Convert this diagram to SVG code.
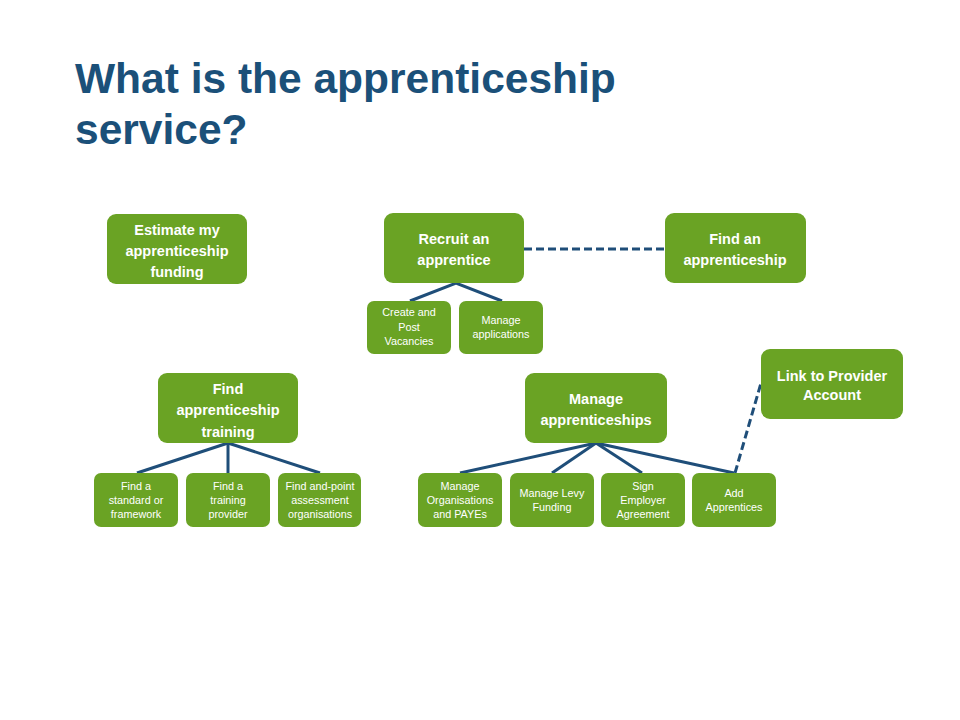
<svg xmlns="http://www.w3.org/2000/svg" width="960" height="720" viewBox="0 0 960 720">
<style>
.box{fill:#6aa324;}
.t{font-family:"Liberation Sans",Arial,sans-serif;font-weight:bold;font-size:14.5px;fill:#fff;text-anchor:middle;}
.s{font-family:"Liberation Sans",Arial,sans-serif;font-size:10.8px;fill:#fff;text-anchor:middle;}
.title{font-family:"Liberation Sans",Arial,sans-serif;font-weight:bold;font-size:42.5px;fill:#1b5079;}
.ln{stroke:#1f4e79;stroke-width:3;fill:none;}
.dash{stroke:#1f4e79;stroke-width:3;fill:none;stroke-dasharray:8 4;}
</style>
<rect width="960" height="720" fill="#fff"/>
<text class="title" x="75" y="93">What is the apprenticeship</text>
<text class="title" x="75" y="144">service?</text>
<g id="connectors">
<polyline class="ln" points="410,301 456,283 502,301"/>
<line class="dash" x1="524" y1="249" x2="665" y2="249"/>
<line class="ln" x1="228" y1="443" x2="137" y2="473"/>
<line class="ln" x1="228" y1="443" x2="228" y2="473"/>
<line class="ln" x1="228" y1="443" x2="320" y2="473"/>
<line class="ln" x1="596" y1="443" x2="460" y2="473"/>
<line class="ln" x1="596" y1="443" x2="552" y2="473"/>
<line class="ln" x1="596" y1="443" x2="642" y2="473"/>
<line class="ln" x1="596" y1="443" x2="734" y2="473"/>
<line class="dash" x1="735" y1="473" x2="761" y2="383"/>
</g>
<g id="estimate"><rect class="box" x="107" y="214" width="140" height="70" rx="9"/>
<text class="t" x="177" y="235">Estimate my</text><text class="t" x="177" y="256">apprenticeship</text><text class="t" x="177" y="277">funding</text></g>
<g id="recruit"><rect class="box" x="384" y="213" width="140" height="70" rx="9"/>
<text class="t" x="454" y="244">Recruit an</text><text class="t" x="454" y="265">apprentice</text></g>
<g id="findapp"><rect class="box" x="665" y="213" width="141" height="70" rx="9"/>
<text class="t" x="735" y="244">Find an</text><text class="t" x="735" y="265">apprenticeship</text></g>
<g id="create"><rect class="box" x="367" y="301" width="84" height="53" rx="7"/>
<text class="s" x="409" y="316">Create and</text><text class="s" x="409" y="331">Post</text><text class="s" x="409" y="345">Vacancies</text></g>
<g id="manageapps"><rect class="box" x="459" y="301" width="84" height="53" rx="7"/>
<text class="s" x="501" y="324">Manage</text><text class="s" x="501" y="338">applications</text></g>
<g id="training"><rect class="box" x="158" y="373" width="140" height="70" rx="9"/>
<text class="t" x="228" y="394">Find</text><text class="t" x="228" y="415">apprenticeship</text><text class="t" x="228" y="437">training</text></g>
<g id="standard"><rect class="box" x="94" y="473" width="84" height="54" rx="7"/>
<text class="s" x="136" y="490">Find a</text><text class="s" x="136" y="504">standard or</text><text class="s" x="136" y="518">framework</text></g>
<g id="provider"><rect class="box" x="186" y="473" width="84" height="54" rx="7"/>
<text class="s" x="228" y="490">Find a</text><text class="s" x="228" y="504">training</text><text class="s" x="228" y="518">provider</text></g>
<g id="epa"><rect class="box" x="278" y="473" width="83" height="54" rx="7"/>
<text class="s" x="320" y="490">Find and-point</text><text class="s" x="320" y="504">assessment</text><text class="s" x="320" y="518">organisations</text></g>
<g id="manage"><rect class="box" x="525" y="373" width="142" height="70" rx="9"/>
<text class="t" x="596" y="404">Manage</text><text class="t" x="596" y="425">apprenticeships</text></g>
<g id="link"><rect class="box" x="761" y="349" width="142" height="70" rx="9"/>
<text class="t" x="832" y="381">Link to Provider</text><text class="t" x="832" y="400">Account</text></g>
<g id="orgs"><rect class="box" x="418" y="473" width="84" height="54" rx="7"/>
<text class="s" x="460" y="490">Manage</text><text class="s" x="460" y="504">Organisations</text><text class="s" x="460" y="518">and PAYEs</text></g>
<g id="levy"><rect class="box" x="510" y="473" width="84" height="54" rx="7"/>
<text class="s" x="552" y="497">Manage Levy</text><text class="s" x="552" y="511">Funding</text></g>
<g id="sign"><rect class="box" x="601" y="473" width="84" height="54" rx="7"/>
<text class="s" x="643" y="490">Sign</text><text class="s" x="643" y="504">Employer</text><text class="s" x="643" y="518">Agreement</text></g>
<g id="add"><rect class="box" x="692" y="473" width="84" height="54" rx="7"/>
<text class="s" x="734" y="497">Add</text><text class="s" x="734" y="511">Apprentices</text></g>
</svg>
